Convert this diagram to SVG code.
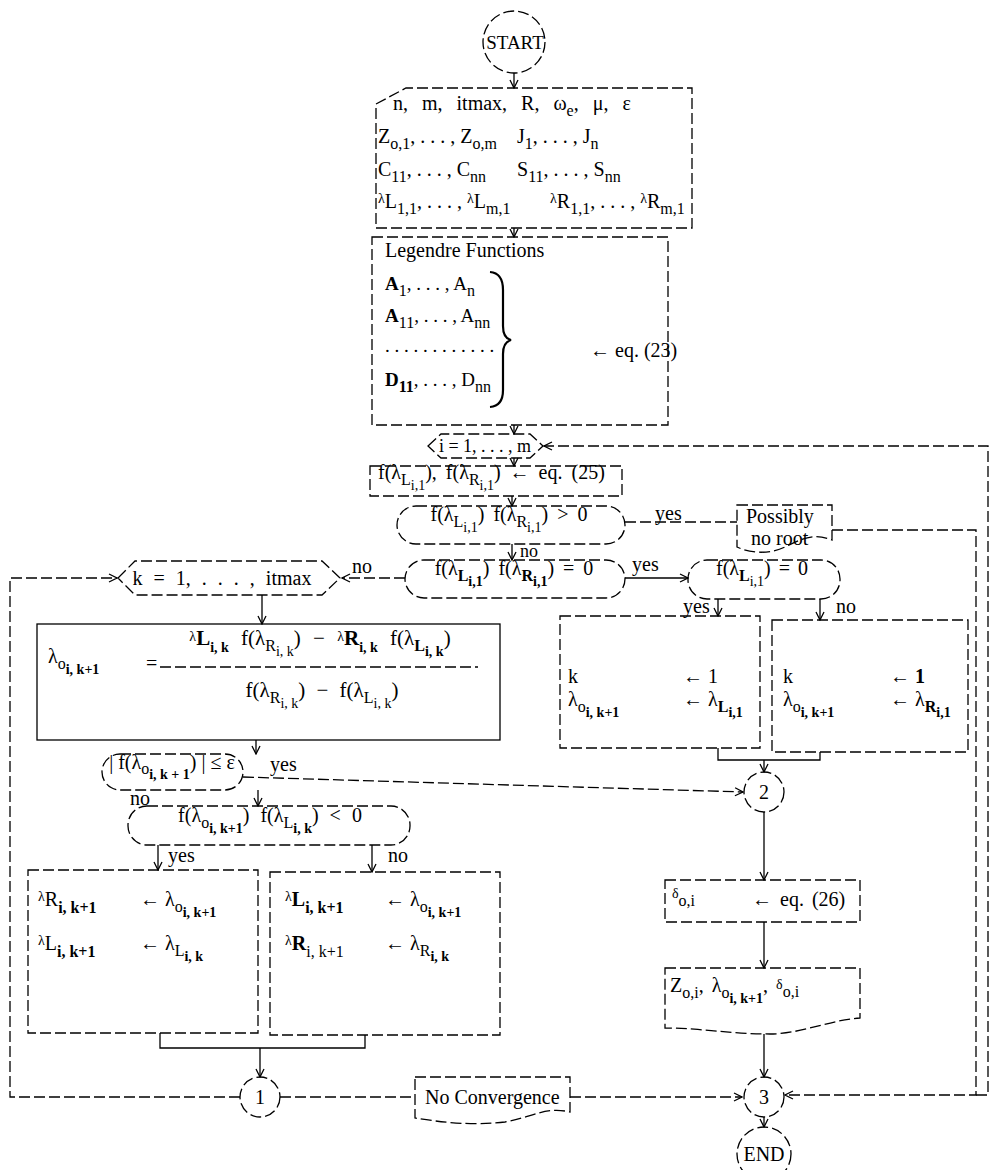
<svg xmlns="http://www.w3.org/2000/svg" width="992" height="1170" viewBox="0 0 992 1170">
<style>
text { font-family: "Liberation Serif", "Times New Roman", serif; font-size: 20px; fill: #000; }
.s { font-size: 16px; word-spacing: 0; }
.ss { font-size: 14px; word-spacing: 0; }
.bf { font-weight: bold; }
.ln { fill: none; stroke: #000; stroke-width: 1.3; }
.dsh { stroke-dasharray: 11 4; }
.arr { marker-end: url(#ah); }
</style>
<defs>
<marker id="ah" viewBox="0 0 10 10" refX="9" refY="5" markerWidth="10" markerHeight="10" markerUnits="userSpaceOnUse" orient="auto">
<path d="M1,1 L9,5 L1,9" fill="none" stroke="#000" stroke-width="1.3"/>
</marker>
</defs>
<rect width="992" height="1170" fill="#fff"/>

<g id="connectors">
<path class="ln arr" d="M514 73 V88"/>
<path class="ln arr" d="M514 228 V237"/>
<path class="ln arr" d="M514 425 V434"/>
<path class="ln arr" d="M514 458 V466"/>
<path class="ln arr" d="M512 496 V506"/>
<path class="ln arr" d="M512 544 V560"/>
<path class="ln dsh arr" d="M976 1095 H988 V446 H544"/>
<path class="ln dsh" d="M625 522 H737"/>
<path class="ln dsh arr" d="M832 530 H976 V1095 H785"/>
<path class="ln arr" d="M625 578 H688"/>
<path class="ln dsh arr" d="M405 578 H342"/>
<path class="ln dsh arr" d="M240 1097 H10 V578 H117"/>
<path class="ln arr" d="M262 595 V624"/>
<path class="ln arr" d="M256 740 V754"/>
<path class="ln dsh arr" d="M243 777 L743 792"/>
<path class="ln arr" d="M258 790 V806"/>
<path class="ln arr" d="M158 845 V870"/>
<path class="ln arr" d="M372 845 V872"/>
<path class="ln" d="M160 1033 V1048 H365 V1035"/>
<path class="ln arr" d="M260 1048 V1077"/>
<path class="ln dsh" d="M280 1097 H415"/>
<path class="ln dsh arr" d="M570 1097 H742"/>
<path class="ln arr" d="M718 599 V616"/>
<path class="ln arr" d="M820 599 V620"/>
<path class="ln" d="M718 748 V760 H820 V752"/>
<path class="ln arr" d="M764 760 V772"/>
<path class="ln arr" d="M764 812 V880"/>
<path class="ln arr" d="M764 922 V968"/>
<path class="ln arr" d="M764 1034 V1077"/>
<path class="ln arr" d="M764 1117 V1127"/>
</g>

<g id="start">
<circle class="ln dsh" cx="514" cy="42" r="31"/>
<text x="515" y="49" text-anchor="middle" style="font-size:19px">START</text>
</g>

<g id="input">
<path class="ln dsh" d="M376 104 L406 88 H692 V228 H376 Z"/>
<text x="393" y="110" word-spacing="9">n, m, itmax, R, ω<tspan class="s" dy="6">e</tspan><tspan dy="-6">, μ, ε</tspan></text>
<text x="378" y="143">Z<tspan class="s" dy="6">o,1</tspan><tspan dy="-6">, . . . , Z</tspan><tspan class="s" dy="6">o,m</tspan></text>
<text x="517" y="143">J<tspan class="s" dy="6">1</tspan><tspan dy="-6">, . . . , J</tspan><tspan class="s" dy="6">n</tspan></text>
<text x="378" y="176">C<tspan class="s" dy="6">11</tspan><tspan dy="-6">, . . . , C</tspan><tspan class="s" dy="6">nn</tspan></text>
<text x="517" y="176">S<tspan class="s" dy="6">11</tspan><tspan dy="-6">, . . . , S</tspan><tspan class="s" dy="6">nn</tspan></text>
<text x="378" y="208"><tspan class="ss" dy="-5">λ</tspan><tspan dy="5">L</tspan><tspan class="s" dy="6">1,1</tspan><tspan dy="-6">, . . . , </tspan><tspan class="ss" dy="-5">λ</tspan><tspan dy="5">L</tspan><tspan class="s" dy="6">m,1</tspan></text>
<text x="550" y="208"><tspan class="ss" dy="-5">λ</tspan><tspan dy="5">R</tspan><tspan class="s" dy="6">1,1</tspan><tspan dy="-6">, . . . , </tspan><tspan class="ss" dy="-5">λ</tspan><tspan dy="5">R</tspan><tspan class="s" dy="6">m,1</tspan></text>
</g>

<g id="legendre">
<rect class="ln dsh" x="372" y="237" width="296" height="188"/>
<text x="385" y="257">Legendre Functions</text>
<text x="385" y="290" style="font-size:19px"><tspan class="bf">A</tspan><tspan class="s" dy="6">1</tspan><tspan dy="-6">, . . . , A</tspan><tspan class="s" dy="6">n</tspan></text>
<text x="385" y="322" style="font-size:19px"><tspan class="bf">A</tspan><tspan class="s" dy="6">11</tspan><tspan dy="-6">, . . . , A</tspan><tspan class="s" dy="6">nn</tspan></text>
<text x="385" y="352" style="font-size:19px">. . . . . . . . . . . .</text>
<text x="385" y="386" style="font-size:19px"><tspan class="bf">D</tspan><tspan class="s bf" dy="6">11</tspan><tspan dy="-6">, . . . , D</tspan><tspan class="s" dy="6">nn</tspan></text>
<path d="M490 272 Q503 273 503 290 L503 326 Q503 338 511 340 Q503 342 503 354 L503 390 Q503 406 490 407" fill="none" stroke="#000" stroke-width="2.2"/>
<text x="590" y="357">← eq. (23)</text>
</g>

<g id="loop-i">
<polygon class="ln dsh" points="428,446 441,434 530,434 543,446 530,458 441,458"/>
<text x="485" y="452" text-anchor="middle" style="font-size:18px">i = 1, . . . , m</text>
</g>

<g id="eq25">
<rect class="ln dsh" x="370" y="466" width="252" height="30"/>
<text x="378" y="479" word-spacing="4">f(λ<tspan class="s" dy="6">L</tspan><tspan class="ss" dy="5">i,1</tspan><tspan dy="-11">), f(λ</tspan><tspan class="s" dy="6">R</tspan><tspan class="ss" dy="5">i,1</tspan><tspan dy="-11">) ← eq. (25)</tspan></text>
</g>

<g id="dec1">
<rect class="ln dsh" x="397" y="506" width="228" height="38" rx="19"/>
<text x="509" y="521" text-anchor="middle" word-spacing="4">f(λ<tspan class="s" dy="6">L</tspan><tspan class="ss" dy="5">i,1</tspan><tspan dy="-11">) f(λ</tspan><tspan class="s" dy="6">R</tspan><tspan class="ss" dy="5">i,1</tspan><tspan dy="-11">) &gt; 0</tspan></text>
<text x="655" y="520">yes</text>
<text x="520" y="557" style="font-size:18px">no</text>
</g>

<g id="noroot">
<path class="ln dsh" d="M737 505 H832 V540 C812 532 800 540 785 547 C770 554 752 554 737 547 Z"/>
<text x="746" y="523">Possibly</text>
<text x="751" y="545">no root</text>
</g>

<g id="dec2">
<rect class="ln dsh" x="405" y="560" width="220" height="38" rx="19"/>
<text x="514" y="575" text-anchor="middle" word-spacing="4">f(λ<tspan class="s bf" dy="6">L</tspan><tspan class="ss bf" dy="5">i,1</tspan><tspan dy="-11">) f(λ</tspan><tspan class="s bf" dy="6">R</tspan><tspan class="ss bf" dy="5">i,1</tspan><tspan dy="-11">) = 0</tspan></text>
<text x="632" y="571">yes</text>
<text x="352" y="573">no</text>
</g>

<g id="dec3">
<rect class="ln dsh" x="688" y="560" width="152" height="39" rx="19"/>
<text x="762" y="575" text-anchor="middle" word-spacing="3">f(λ<tspan class="s bf" dy="6">L</tspan><tspan class="ss" dy="5">i,1</tspan><tspan dy="-11">) = 0</tspan></text>
<text x="683" y="613">yes</text>
<text x="836" y="613">no</text>
</g>

<g id="loop-k">
<polygon class="ln dsh" points="118,578 135,561 322,561 340,578 322,595 135,595"/>
<text x="222" y="585" text-anchor="middle" word-spacing="6">k = 1, . . . , itmax</text>
</g>

<g id="formula">
<rect class="ln" x="37" y="624" width="463" height="116"/>
<text x="48" y="663">λ<tspan class="s" dy="6">o</tspan><tspan class="ss bf" dy="5">i, k+1</tspan></text>
<text x="146" y="670">=</text>
<path class="ln dsh" d="M160 667 H478"/>
<text x="320" y="645" text-anchor="middle" word-spacing="7" style="font-size:21px"><tspan class="ss" dy="-4">λ</tspan><tspan class="bf" dy="4">L</tspan><tspan class="ss bf" dy="7">i, k</tspan><tspan dy="-7"> f(λ</tspan><tspan class="s" dy="6">R</tspan><tspan class="ss" dy="5">i, k</tspan><tspan dy="-11">) − </tspan><tspan class="ss" dy="-4">λ</tspan><tspan class="bf" dy="4">R</tspan><tspan class="ss bf" dy="7">i, k</tspan><tspan dy="-7"> f(λ</tspan><tspan class="s bf" dy="6">L</tspan><tspan class="ss bf" dy="5">i, k</tspan><tspan dy="-11">)</tspan></text>
<text x="322" y="697" text-anchor="middle" word-spacing="6" style="font-size:21px">f(λ<tspan class="s" dy="6">R</tspan><tspan class="ss" dy="5">i, k</tspan><tspan dy="-11">) − f(λ</tspan><tspan class="s" dy="6">L</tspan><tspan class="ss" dy="5">i, k</tspan><tspan dy="-11">)</tspan></text>
</g>

<g id="dec4">
<rect class="ln dsh" x="102" y="754" width="141" height="36" rx="18"/>
<text x="172" y="769" text-anchor="middle">| f(λ<tspan class="s" dy="5">o</tspan><tspan class="ss bf" dy="5">i, k + 1</tspan><tspan dy="-10">) | ≤ ε</tspan></text>
<text x="270" y="771">yes</text>
<text x="130" y="805">no</text>
</g>

<g id="dec5">
<rect class="ln dsh" x="128" y="806" width="282" height="39" rx="19"/>
<text x="270" y="822" text-anchor="middle" word-spacing="6">f(λ<tspan class="s" dy="6">o</tspan><tspan class="ss bf" dy="5">i, k+1</tspan><tspan dy="-11">) f(λ</tspan><tspan class="s" dy="6">L</tspan><tspan class="ss bf" dy="5">i, k</tspan><tspan dy="-11">) &lt; 0</tspan></text>
<text x="168" y="862">yes</text>
<text x="388" y="862">no</text>
</g>

<g id="upd-yes">
<rect class="ln dsh" x="28" y="870" width="230" height="163"/>
<text x="38" y="906"><tspan class="ss" dy="-5">λ</tspan><tspan dy="5">R</tspan><tspan class="s bf" dy="7">i, k+1</tspan></text>
<text x="140" y="906">← λ<tspan class="s" dy="6">o</tspan><tspan class="ss bf" dy="5">i, k+1</tspan></text>
<text x="38" y="950"><tspan class="ss" dy="-5">λ</tspan><tspan dy="5">L</tspan><tspan class="s bf" dy="7">i, k+1</tspan></text>
<text x="140" y="950">← λ<tspan class="s" dy="6">L</tspan><tspan class="ss bf" dy="5">i, k</tspan></text>
</g>

<g id="upd-no">
<rect class="ln dsh" x="270" y="872" width="230" height="163"/>
<text x="285" y="906"><tspan class="ss" dy="-5">λ</tspan><tspan class="bf" dy="5">L</tspan><tspan class="s bf" dy="7">i, k+1</tspan></text>
<text x="385" y="906">← λ<tspan class="s" dy="6">o</tspan><tspan class="ss bf" dy="5">i, k+1</tspan></text>
<text x="285" y="950"><tspan class="ss" dy="-5">λ</tspan><tspan class="bf" dy="5">R</tspan><tspan class="s" dy="7">i, k+1</tspan></text>
<text x="385" y="950">← λ<tspan class="s" dy="6">R</tspan><tspan class="ss bf" dy="5">i, k</tspan></text>
</g>

<g id="init-l">
<rect class="ln dsh" x="560" y="616" width="200" height="132"/>
<text x="568" y="683">k</text>
<text x="683" y="683">← 1</text>
<text x="568" y="706">λ<tspan class="s" dy="6">o</tspan><tspan class="ss bf" dy="5">i, k+1</tspan></text>
<text x="683" y="706">← λ<tspan class="s bf" dy="6">L</tspan><tspan class="ss bf" dy="5">i,1</tspan></text>
</g>

<g id="init-r">
<rect class="ln dsh" x="772" y="620" width="196" height="132"/>
<text x="783" y="683">k</text>
<text x="890" y="683">← <tspan class="bf">1</tspan></text>
<text x="783" y="706">λ<tspan class="s" dy="6">o</tspan><tspan class="ss bf" dy="5">i, k+1</tspan></text>
<text x="890" y="706">← λ<tspan class="s bf" dy="6">R</tspan><tspan class="ss bf" dy="5">i,1</tspan></text>
</g>

<g id="c2">
<circle class="ln dsh" cx="764" cy="792" r="20"/>
<text x="764" y="799" text-anchor="middle">2</text>
</g>

<g id="eq26">
<rect class="ln dsh" x="665" y="880" width="195" height="42"/>
<text x="672" y="901"><tspan class="ss" dy="-3">δ</tspan><tspan class="s" dy="8">o,i</tspan></text>
<text x="752" y="906" word-spacing="3">← eq. (26)</text>
</g>

<g id="output">
<path class="ln dsh" d="M665 968 H860 V1018 C830 1020 800 1034 770 1034 C730 1034 700 1028 665 1028 Z"/>
<text x="670" y="992" word-spacing="3">Z<tspan class="s" dy="6">o,i</tspan><tspan dy="-6">, λ</tspan><tspan class="s" dy="6">o</tspan><tspan class="ss bf" dy="5">i, k+1</tspan><tspan dy="-11">, </tspan><tspan class="ss" dy="-3">δ</tspan><tspan class="s" dy="8">o,i</tspan></text>
</g>

<g id="c1">
<circle class="ln dsh" cx="260" cy="1097" r="20"/>
<text x="260" y="1104" text-anchor="middle">1</text>
</g>

<g id="noconv">
<path class="ln dsh" d="M415 1077 H570 V1112 C545 1106 530 1118 505 1122 C470 1126 440 1122 415 1118 Z"/>
<text x="425" y="1104">No Convergence</text>
</g>

<g id="c3">
<circle class="ln dsh" cx="764" cy="1097" r="20"/>
<text x="764" y="1104" text-anchor="middle">3</text>
</g>

<g id="end">
<circle class="ln dsh" cx="764" cy="1154" r="27"/>
<text x="764" y="1161" text-anchor="middle">END</text>
</g>
</svg>
